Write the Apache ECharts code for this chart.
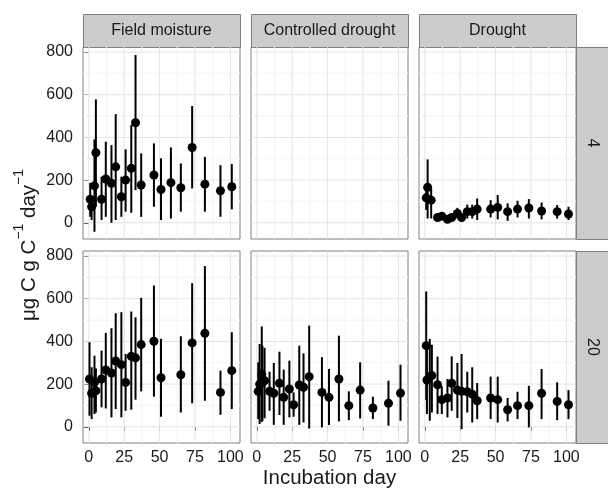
<!DOCTYPE html>
<html>
<head>
<meta charset="utf-8">
<script src="https://cdn.jsdelivr.net/npm/echarts@6/dist/echarts.min.js"></script>
<style>
  html, body { margin: 0; padding: 0; background: #fff; }
  #chart { width: 608px; height: 490px; }
</style>
</head>
<body>
<div id="chart"></div>
<script>
// facets and tick labels
const treatments = ['Field moisture', 'Controlled drought', 'Drought']
const temperatures = ['4', '20']
const xTicks = [0, 25, 50, 75, 100]
const xMinor = [12.5, 37.5, 62.5, 87.5]
const yTicks = [0, 200, 400, 600, 800]
const yMinor = [100, 300, 500, 700]

// Field moisture, 4
const fm4Day = [1, 2, 4, 5, 9, 12, 16, 19, 23, 26, 30, 33, 37, 46, 51, 58, 65, 73, 82, 93, 101]
const fm4Mean = [110, 75, 173, 328, 110, 205, 185, 262, 122, 200, 255, 469, 177, 224, 156, 188, 164, 353, 181, 150, 169]
const fm4Low = [28, 13, -42, 75, 13, 28, 0, 13, 28, 52, 47, 153, 28, 75, 13, 20, 52, 161, 52, 28, 63]
const fm4High = [187, 122, 391, 578, 216, 380, 364, 509, 216, 344, 458, 786, 325, 372, 302, 353, 278, 547, 309, 270, 275]

// Field moisture, 20
const fm20Day = [0.5, 2, 4, 5, 9, 12, 16, 19, 23, 26, 30, 33, 37, 46, 51, 65, 73, 82, 93, 101]
const fm20Mean = [224, 157, 208, 169, 224, 266, 252, 308, 291, 208, 330, 323, 385, 401, 230, 244, 393, 438, 161, 263]
const fm20Low = [52, 36, 60, 67, 91, 86, 44, 83, 44, 75, 80, 127, 166, 141, 47, 67, 110, 122, 56, 83]
const fm20High = [396, 279, 333, 274, 357, 440, 462, 532, 537, 341, 540, 513, 604, 662, 412, 424, 673, 753, 263, 443]

// Controlled drought, 20
const cd20Day = [1, 2, 3.5, 4, 5.5, 9, 12, 16, 19, 23, 26, 30, 33, 37, 46, 51, 58, 65, 73, 82, 93, 101.5]
const cd20Mean = [166, 200, 247, 208, 216, 166, 157, 204, 138, 177, 103, 196, 185, 235, 161, 138, 224, 99, 172, 88, 110, 158]
const cd20Low = [36, 13, 23, 28, 40, 75, 9, 55, 9, 44, 47, 9, 20, -8, -3, 8, 25, 31, 39, 36, 5, 28]
const cd20High = [302, 388, 470, 380, 370, 258, 299, 352, 268, 310, 161, 380, 344, 474, 326, 271, 427, 166, 302, 141, 216, 291]

// Drought, 4
const dr4Day = [1, 2, 4.5, 9, 12, 16, 19, 23, 26, 30, 33.5, 37, 46.5, 51.5, 58.5, 65.5, 73.5, 82.5, 93.5, 101.5]
const dr4Mean = [117, 166, 106, 25, 31, 16, 25, 44, 25, 52, 52, 64, 64, 72, 52, 64, 69, 55, 52, 41]
const dr4Low = [60, 20, 20, 10, 15, 5, 10, 20, 10, 20, 20, 13, 25, 16, 9, 25, 20, 16, 20, 13]
const dr4High = [170, 297, 161, 40, 45, 28, 40, 70, 40, 85, 85, 114, 106, 130, 91, 103, 111, 95, 83, 75]

// Drought, 20
const dr20Day = [1, 1.5, 3.5, 5, 9, 12, 16, 19, 23, 26, 30, 33.5, 37, 46.5, 51.5, 58.5, 65.5, 73.5, 82.5, 93.5, 101.5]
const dr20Mean = [380, 219, 235, 240, 197, 127, 135, 204, 172, 166, 164, 153, 122, 135, 127, 80, 99, 99, 157, 119, 103]
const dr20Low = [125, 60, 28, 67, 60, 60, 44, 75, 41, -11, 67, 20, 36, 36, 20, 25, 36, -3, 36, 31, 36]
const dr20High = [634, 380, 412, 384, 329, 190, 224, 330, 299, 341, 258, 279, 205, 235, 235, 135, 164, 192, 271, 208, 172]

const panels = [
  { col: 0, row: 0, day: fm4Day, mean: fm4Mean, low: fm4Low, high: fm4High },
  { col: 1, row: 0, day: [], mean: [], low: [], high: [] },
  { col: 2, row: 0, day: dr4Day, mean: dr4Mean, low: dr4Low, high: dr4High },
  { col: 0, row: 1, day: fm20Day, mean: fm20Mean, low: fm20Low, high: fm20High },
  { col: 1, row: 1, day: cd20Day, mean: cd20Mean, low: cd20Low, high: cd20High },
  { col: 2, row: 1, day: dr20Day, mean: dr20Mean, low: dr20Low, high: dr20High }
]

// layout
const colLeft = [83, 251, 419]
const rowTop = [47, 251]
const panelW = 157
const panelH = 192
const stripH = 33
const fontFamily = '"Liberation Sans", Arial, Helvetica, sans-serif'
const textColor = '#1a1a1a'

const grids = panels.map(p => ({
  left: colLeft[p.col],
  top: rowTop[p.row],
  width: panelW,
  height: panelH,
  show: true,
  backgroundColor: '#fff',
  borderColor: '#7f7f7f',
  borderWidth: 1
}))

const xAxes = panels.map((p, i) => ({
  type: 'value',
  gridIndex: i,
  min: -4.1,
  max: 106.8,
  axisLine: { show: false },
  splitLine: { show: false },
  axisTick: { show: p.row === 1, customValues: xTicks, length: 4, lineStyle: { color: '#333', width: 1 } },
  axisLabel: {
    show: p.row === 1, customValues: xTicks, margin: 7,
    color: textColor, fontSize: 16, fontFamily
  }
}))

const yAxes = panels.map((p, i) => ({
  type: 'value',
  gridIndex: i,
  min: -76,
  max: 823.7,
  axisLine: { show: false },
  splitLine: { show: false },
  axisTick: { show: p.col === 0, customValues: yTicks, length: 5, lineStyle: { color: '#333', width: 1 } },
  axisLabel: {
    show: p.col === 0, customValues: yTicks, margin: 10,
    color: textColor, fontSize: 16, fontFamily
  }
}))

// background grid lines, drawn through the axes
const gridLineItem = (params, api) => {
  const cs = params.coordSys
  const children = []
  const vline = (v, color, w) => {
    const x = api.coord([v, 0])[0]
    children.push({ type: 'line', shape: { x1: x, y1: cs.y, x2: x, y2: cs.y + cs.height }, style: { stroke: color, lineWidth: w } })
  }
  const hline = (v, color, w) => {
    const y = api.coord([0, v])[1]
    children.push({ type: 'line', shape: { x1: cs.x, y1: y, x2: cs.x + cs.width, y2: y }, style: { stroke: color, lineWidth: w } })
  }
  xMinor.forEach(v => vline(v, '#f5f5f5', 1.2))
  yMinor.forEach(v => hline(v, '#f5f5f5', 1.2))
  xTicks.forEach(v => vline(v, '#e3e3e3', 1))
  yTicks.forEach(v => hline(v, '#e3e3e3', 1))
  return { type: 'group', children }
}

const errorBarItem = (params, api) => {
  const a = api.coord([api.value(0), api.value(1)])
  const b = api.coord([api.value(0), api.value(2)])
  return {
    type: 'line',
    shape: { x1: a[0], y1: a[1], x2: b[0], y2: b[1] },
    style: { stroke: '#000', lineWidth: 2 }
  }
}

const series = []
panels.forEach((p, i) => {
  series.push({
    type: 'custom', xAxisIndex: i, yAxisIndex: i, z: 1, silent: true,
    data: [[0, 0]], renderItem: gridLineItem
  })
  if (!p.day.length) return
  series.push({
    type: 'custom', xAxisIndex: i, yAxisIndex: i, z: 2, silent: true,
    encode: { x: 0, y: [1, 2] },
    data: p.day.map((d, k) => [d, p.low[k], p.high[k]]),
    renderItem: errorBarItem
  })
  series.push({
    type: 'scatter', xAxisIndex: i, yAxisIndex: i, z: 3,
    symbol: 'circle', symbolSize: 9,
    itemStyle: { color: '#000', opacity: 1 },
    data: p.day.map((d, k) => [d, p.mean[k]])
  })
})

// facet strips
const graphic = []
treatments.forEach((t, c) => {
  graphic.push({
    type: 'rect', left: colLeft[c], top: rowTop[0] - stripH,
    shape: { width: panelW, height: stripH },
    style: { fill: '#cccccc', stroke: '#7f7f7f', lineWidth: 1 }
  })
  graphic.push({
    type: 'text', x: colLeft[c] + panelW / 2, y: rowTop[0] - stripH / 2,
    style: { text: t, fill: textColor, font: '16px ' + fontFamily, align: 'center', verticalAlign: 'middle' }
  })
})
const stripLeft = colLeft[2] + panelW
temperatures.forEach((t, r) => {
  graphic.push({
    type: 'rect', left: stripLeft, top: rowTop[r],
    shape: { width: 32, height: panelH },
    style: { fill: '#cccccc', stroke: '#7f7f7f', lineWidth: 1 }
  })
  graphic.push({
    type: 'text', x: stripLeft + 16, y: rowTop[r] + panelH / 2, rotation: -Math.PI / 2,
    style: { text: t, fill: textColor, font: '16px ' + fontFamily, align: 'center', verticalAlign: 'middle' }
  })
})

// axis titles
graphic.push({
  type: 'text', x: (colLeft[0] + stripLeft) / 2, y: 478,
  style: { text: 'Incubation day', fill: textColor, font: '20.5px ' + fontFamily, align: 'center', verticalAlign: 'middle' }
})
graphic.push({
  type: 'text', x: 26, y: (rowTop[0] + rowTop[1] + panelH) / 2, rotation: Math.PI / 2,
  style: {
    text: '{b|μg C g C}{s|−1}{b| day}{s|−1}',
    align: 'center', verticalAlign: 'middle',
    rich: {
      b: { fontSize: 20.5, fontFamily, fill: textColor, lineHeight: 28, verticalAlign: 'bottom' },
      s: { fontSize: 14, fontFamily, fill: textColor, lineHeight: 28, verticalAlign: 'top' }
    }
  }
})

const chart = echarts.init(document.getElementById('chart'))
chart.setOption({
  animation: false,
  backgroundColor: '#fff',
  grid: grids,
  xAxis: xAxes,
  yAxis: yAxes,
  series,
  graphic
})

window.addEventListener('resize', () => chart.resize())
</script>
</body>
</html>
